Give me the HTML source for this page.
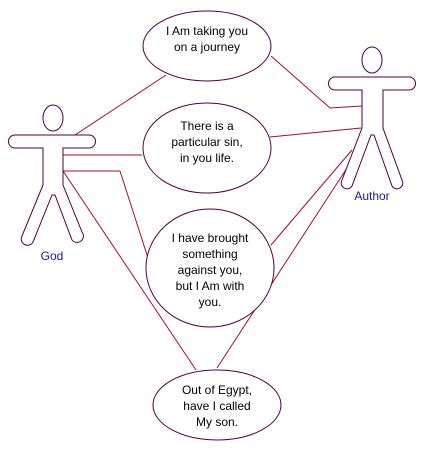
<!DOCTYPE html>
<html><head><meta charset="utf-8"><style>
html,body{margin:0;padding:0;background:#fff;}
svg{display:block;}
text{font-family:"Liberation Sans",sans-serif;font-size:12px;}
</style></head><body>
<svg width="423" height="449" viewBox="0 0 423 449" xmlns="http://www.w3.org/2000/svg">
<g stroke="#a0102a" stroke-width="1" fill="none">
<line x1="75" y1="135" x2="166" y2="75"/>
<polyline points="271,56 330,108 362,106"/>
<line x1="270" y1="137" x2="361" y2="128"/>
<line x1="63" y1="155" x2="142" y2="155"/>
<polyline points="63,171 120,171 148,258"/>
<line x1="63" y1="171" x2="196" y2="370"/>
<line x1="352" y1="150" x2="271" y2="245"/>
<line x1="347" y1="168" x2="217" y2="368"/>
</g>
<g stroke="#500040" stroke-width="1" fill="#fff">
<ellipse cx="207" cy="46" rx="64" ry="35"/>
<ellipse cx="207" cy="148" rx="64" ry="45"/>
<ellipse cx="210" cy="268" rx="64" ry="59"/>
<ellipse cx="217" cy="405" rx="64" ry="35"/>
</g>
<g stroke="#500040" stroke-width="1" fill="#fff">
<ellipse cx="53" cy="118" rx="10" ry="13"/>
<path d="M43,148 H15 A5,5 0 0 1 15,135 H89 A5,5 0 0 1 89,148 H63 V185 L82,232 A5,5 0 0 1 72,240 L55,195 L52,195 L33,242 A5,5 0 0 1 22,236 L43,185 Z"/>
<ellipse cx="372" cy="60" rx="10" ry="13"/>
<path d="M362,90 H335 A5,5 0 0 1 335,77 H409 A5,5 0 0 1 409,90 H383 V128 L402,180 A5,5 0 0 1 392,186 L374,135 L371,135 L352,186 A5,5 0 0 1 342,180 L362,128 Z"/>
</g>
<g fill="#000" text-anchor="middle">
<text x="207" y="35">I Am taking you</text>
<text x="207" y="51">on a journey</text>
<text x="207" y="130">There is a</text>
<text x="207" y="146">particular sin,</text>
<text x="207" y="162">in you life.</text>
<text x="210" y="242">I have brought</text>
<text x="210" y="258">something</text>
<text x="210" y="274">against you,</text>
<text x="210" y="290">but I Am with</text>
<text x="210" y="306">you.</text>
<text x="217" y="394">Out of Egypt,</text>
<text x="217" y="410">have I called</text>
<text x="217" y="426">My son.</text>
</g>
<g fill="#1a1a8c" text-anchor="middle">
<text x="52" y="260">God</text>
<text x="372" y="200">Author</text>
</g>
</svg>
</body></html>
